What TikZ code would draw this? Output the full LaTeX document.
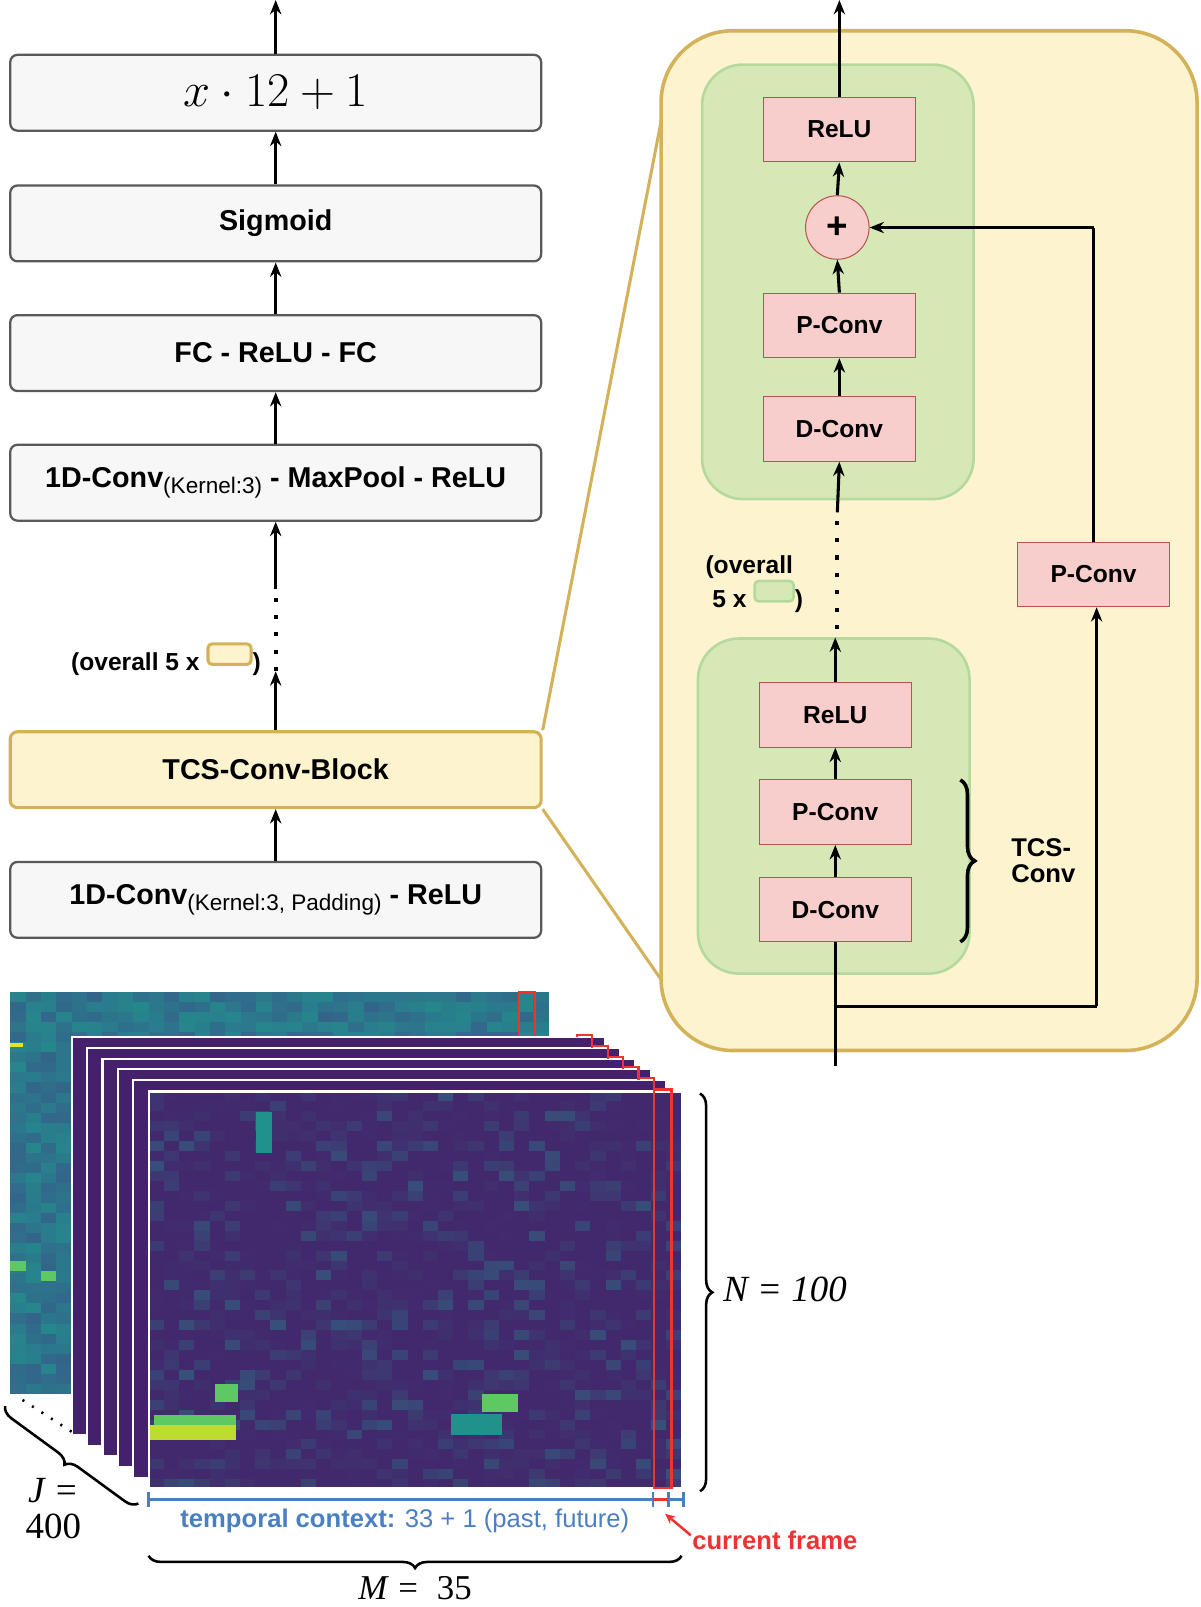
\documentclass[tikz,border=0pt]{standalone}
\usepackage{fontspec}
\setmainfont{Liberation Sans}
\newfontfamily\tms{Liberation Serif}
\usetikzlibrary{arrows.meta,decorations.pathreplacing}
\definecolor{pur}{HTML}{45206B}
\definecolor{vteal}{HTML}{21918C}
\definecolor{vblue}{HTML}{3B528B}
\definecolor{vgreen}{HTML}{5EC962}
\definecolor{vyel}{HTML}{E6E419}
\definecolor{yfill}{HTML}{FDF3CF}
\definecolor{yline}{HTML}{D4B25A}
\definecolor{gfill}{HTML}{D5E8B5}
\definecolor{gline}{HTML}{B5D99C}
\definecolor{pfill}{HTML}{F8CECC}
\definecolor{pline}{HTML}{B85450}
\definecolor{tblue}{HTML}{4A7FC1}
\definecolor{tred}{HTML}{EE3333}
\begin{document}
\begin{tikzpicture}[x=1pt,y=-1pt,
 lbox/.style={draw=black!65,line width=2.2pt,fill=black!3,rounded corners=7pt,minimum width=518pt,minimum height=74pt,inner sep=0pt,font=\fontsize{28}{32}\selectfont\bfseries},
 pbox/.style={draw=pline,line width=1pt,fill=pfill,minimum width=148pt,minimum height=63pt,inner sep=0pt,font=\fontsize{24}{28}\selectfont\bfseries},
 ar/.style={-{Stealth[length=14pt,width=11pt]},line width=3pt},
 ln/.style={line width=3pt},
 dt/.style={line width=4pt,dash pattern=on 4pt off 13pt}]
\useasboundingbox (0,0) rectangle (1171,1568);
% left column
\node[lbox] (b1) at (269,90.5) {\mdseries\scalebox{1.9}{$x\cdot 12+1$}};
\node[lbox] (b2) at (269,218) {Sigmoid};
\node[lbox] (b3) at (269,344.5) {FC - ReLU - FC};
\node[lbox] (b4) at (269,471) {1D-Conv{\mdseries\fontsize{22}{24}\selectfont\raisebox{-6pt}{(Kernel:3)}} - MaxPool - ReLU};
\node[lbox,draw=yline,fill=yfill,line width=3pt] (tcs) at (269,751) {TCS-Conv-Block};
\node[lbox] (b6) at (269,878) {1D-Conv{\mdseries\fontsize{22}{24}\selectfont\raisebox{-6pt}{(Kernel:3, Padding)}} - ReLU};
\coordinate (top1) at (269,0);
\draw[ar] (b1.north) -- (top1);
\draw[ar] (b2.north) -- (b1.south);
\draw[ar] (b3.north) -- (b2.south);
\draw[ar] (b4.north) -- (b3.south);
\coordinate (d1) at (269,575);
\coordinate (d2) at (269,655);
\draw[ar] (d1) -- (b4.south);
\draw[dt] (d1) ++(0,8) -- (d2);
\draw[ar] (tcs.north) -- (d2);
\draw[ar] (b6.north) -- (tcs.south);
\node[font=\fontsize{24}{28}\selectfont\bfseries,anchor=east] (ov1) at (258,643) {(overall 5 x \tikz[baseline=-6pt]\draw[yline,fill=yfill,line width=3pt,rounded corners=4pt] (0,0) rectangle (42,-20);)};
% right panel
\draw[yline,line width=3pt] (tcs.north east) -- (651,88);
\draw[yline,line width=3pt] (tcs.south east) -- (648,960);
\draw[yline,fill=yfill,line width=3.5pt,rounded corners=70pt] (645,30) rectangle (1168,1025);
\draw[gline,fill=gfill,line width=2.5pt,rounded corners=40pt] (685,63) rectangle (950,487);
\draw[gline,fill=gfill,line width=2.5pt,rounded corners=40pt] (681,623) rectangle (946,950);
\node[pbox] (r1) at (819,126.5) {ReLU};
\node[circle,draw=pline,fill=pfill,line width=1pt,minimum size=62pt,inner sep=0pt,font=\fontsize{36}{36}\selectfont\bfseries] (plus) at (817,222) {+};
\node[pbox] (pc1) at (819,317.5) {P-Conv};
\node[pbox] (dc1) at (819,418.5) {D-Conv};
\node[pbox] (r2) at (815,697.5) {ReLU};
\node[pbox] (pc2) at (815,792.5) {P-Conv};
\node[pbox] (dc2) at (815,887.5) {D-Conv};
\node[pbox] (pc3) at (1067,560.5) {P-Conv};
\coordinate (top2) at (819,0);
\coordinate (in) at (815,1040);
\coordinate (br) at (815,982);
\coordinate (brr) at (1070,982);
\coordinate (sk) at (1067,222);
\draw[ar] (r1.north) -- (top2);
\draw[ar] (plus.north) -- (r1.south);
\draw[ar] (pc1.north) -- (plus.south);
\draw[ar] (dc1.north) -- (pc1.south);
\coordinate (e1) at (817,500);
\coordinate (e2) at (817,622);
\draw[ar] (e1) -- (dc1.south);
\draw[dt] (e1) ++(0,8) -- (e2);
\draw[ar] (r2.north) -- (815,622);
\draw[ar] (pc2.north) -- (r2.south);
\draw[ar] (dc2.north) -- (pc2.south);
\draw[ln] (in) -- (dc2.south);
\draw[ln] (br) -- (brr);
\draw[ar] (brr) -- (pc3.south -| brr);
\draw[ln] (pc3.north) -- (sk);
\draw[ar] (sk) -- (plus.east);
\draw[line width=3.5pt,decorate,decoration={brace,amplitude=14pt}] (937,761) -- (937,919);
\node[font=\fontsize{25}{25}\selectfont\bfseries,align=left] (tcsl) at (1018,840) {TCS-\\Conv};
\node[font=\fontsize{24}{26}\selectfont\bfseries,align=left] (ov2) at (736,570) {(overall\\\ 5 x \tikz[baseline=-6pt]\draw[gline,fill=gfill,line width=2.5pt,rounded corners=4pt] (0,0) rectangle (38,-20);)};
% heatmaps
\pgfmathsetseed{7}
\foreach \i in {0,...,34}{\foreach \j in {0,...,39}{
 \pgfmathtruncatemacro\v{30+55*rnd}
 \fill[vteal!\v!vblue] ({10+\i*15},{968+\j*9.8}) rectangle +(15.2,10);}}
\fill[vgreen] (10,1230) rectangle +(15,10);
\fill[vgreen] (40,1240) rectangle +(15,10);
\fill[vyel] (10,1018) rectangle +(12,4);
\draw[tred,line width=2pt] (506,968) rectangle (522,1012);
\foreach \k in {0,...,5}{
 \draw[white,fill=pur,line width=2pt] ({70+\k*15},{1012+\k*10.5}) rectangle ({590+\k*15},{1400+\k*10.5});
 \draw[tred,line width=2pt] ({563+\k*15},{1012+\k*10.5}) -- ({563+\k*15},{1010+\k*10.5}) -| ({578+\k*15},{1022+\k*10.5});}
\foreach \i in {0,...,34}{\foreach \j in {0,...,39}{
 \pgfmathtruncatemacro\v{8+35*rnd^5}
 \fill[vteal!\v!pur] ({145+\i*14.86},{1065+\j*9.7}) rectangle +(15,9.9);}}
\fill[vyel!70!vgreen] (145,1390) rectangle (230,1405);
\fill[vgreen] (150,1381) rectangle (230,1390);
\fill[vgreen] (470,1360) rectangle (505,1378);
\fill[vgreen] (210,1350) rectangle (232,1368);
\fill[vteal] (250,1085) rectangle (265,1125);
\fill[vteal] (440,1380) rectangle (490,1400);
\draw[white,line width=2pt] (145,1065) rectangle (665,1452);
\draw[tred,line width=2.5pt] (638,1063) rectangle (655,1452);
% annotations
\draw[line width=2.5pt,decorate,decoration={brace,amplitude=12pt}] (683,1067) -- (683,1455);
\node[font=\tms\itshape\fontsize{36}{38}\selectfont] (nl) at (766,1258) {N = 100};
\draw[tblue,line width=2.5pt] (145,1463) -- (667,1463);
\foreach \x in {145,637,652,667}{\draw[tblue,line width=2.5pt] (\x,1456) -- (\x,1470);}
\draw[tred,line width=2.5pt] (637,1463) -- (652,1463);
\node[font=\fontsize{25}{28}\selectfont,text=tblue] (tc) at (395,1484) {\textbf{temporal context:} 33 + 1 (past, future)};
\coordinate (cfa) at (649,1477);
\node[font=\fontsize{25}{28}\selectfont\bfseries,text=tred,anchor=west] (cf) at (672,1503) {current frame};
\draw[tred,line width=2.5pt,-{Stealth[length=10pt,width=9pt]}] (cf.west) ++(2,-5) -- (cfa);
\draw[line width=2.5pt,decorate,decoration={brace,amplitude=12pt,mirror}] (145,1518) -- (665,1518);
\node[font=\tms\itshape\fontsize{34}{34}\selectfont] (ml) at (405,1550) {M = \ \textup{35}};
\draw[line width=2.5pt,decorate,decoration={brace,amplitude=12pt}] (135,1467) -- (5,1372);
\draw[line width=2.5pt,dash pattern=on 2pt off 9pt] (22,1366) -- (70,1397);
\node[font=\tms\fontsize{36}{36}\selectfont,align=center] (jl) at (52,1472) {\itshape J =\\400};
\end{tikzpicture}
\end{document}
